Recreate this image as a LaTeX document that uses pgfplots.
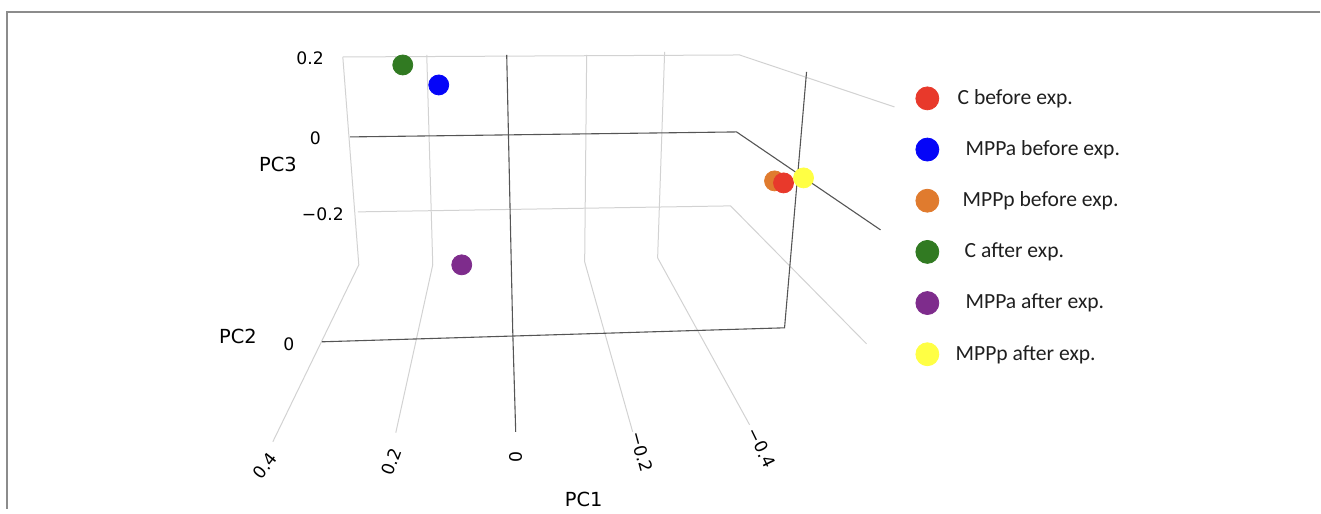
\documentclass[border=0pt]{standalone}
\usepackage{fontspec}
\setmainfont{DejaVu Sans}
\newfontfamily\legfont{Carlito}
\usepackage{pgfplots}
\pgfplotsset{compat=1.18}
\definecolor{cRed}{HTML}{E8392B}
\definecolor{cBlue}{HTML}{0505F8}
\definecolor{cOrange}{HTML}{E07B2E}
\definecolor{cGreen}{HTML}{317A22}
\definecolor{cPurple}{HTML}{7E2C8C}
\definecolor{cYellow}{HTML}{FFFF44}
\definecolor{gridL}{HTML}{D2D2D2}
\definecolor{gridD}{HTML}{555555}
\definecolor{axtext}{HTML}{444444}
\definecolor{frameC}{HTML}{8C8C8C}
\begin{document}
\begin{tikzpicture}
\begin{axis}[
  width=660.5pt, height=254.5pt, scale only axis,
  xmin=0, xmax=1321, ymin=0, ymax=509, y dir=reverse,
  hide axis, clip=false,
  legend cell align=left,
  legend style={at={(0.6934,0.830)}, anchor=north west, draw=none, fill=none,
    font=\legfont\fontsize{10.8pt}{12pt}\selectfont, text=black!88,
    row sep=14.1pt, column sep=8.4pt, inner sep=0pt, nodes={inner sep=0pt}},
  every node/.style={text=axtext, inner sep=0pt},
]
% bounding area
\path (axis cs:0,0) rectangle (axis cs:1321,509);
% legend
\addlegendimage{only marks, mark=*, mark size=5.75pt, color=cRed}
\addlegendentry{\hspace{1pt}C before exp.}
\addlegendimage{only marks, mark=*, mark size=5.75pt, color=cBlue}
\addlegendentry{\hspace{5pt}MPPa before exp.}
\addlegendimage{only marks, mark=*, mark size=5.75pt, color=cOrange}
\addlegendentry{\hspace{3.5pt}MPPp before exp.}
\addlegendimage{only marks, mark=*, mark size=5.75pt, color=cGreen}
\addlegendentry{\hspace{4.5pt}C after exp.}
\addlegendimage{only marks, mark=*, mark size=5.75pt, color=cPurple}
\addlegendentry{\hspace{5pt}MPPa after exp.}
\addlegendimage{only marks, mark=*, mark size=5.75pt, color=cYellow}
\addlegendentry{MPPp after exp.}
% frame
\addplot[frameC, line width=0.75pt, forget plot] coordinates {(1321,12) (7,12) (7,509)};
% light grid lines
\addplot[gridL, line width=0.5pt, forget plot] coordinates {(343,57) (740,55) (895,107)};
\addplot[gridL, line width=0.5pt, forget plot] coordinates {(358,212) (731,206) (867,344)};
\addplot[gridL, line width=0.5pt, forget plot] coordinates {(343,57) (359,265) (273,442)};
\addplot[gridL, line width=0.5pt, forget plot] coordinates {(427,55) (433,265) (396,433)};
\addplot[gridL, line width=0.5pt, forget plot] coordinates {(587,55) (585,262) (633,432)};
\addplot[gridL, line width=0.5pt, forget plot] coordinates {(665,52) (658,258) (750,425)};
% dark zero lines
\addplot[gridD, line width=0.55pt, forget plot] coordinates {(350,137) (737,132) (881,230)};
\addplot[gridD, line width=0.55pt, forget plot] coordinates {(507,55) (513,330) (516,432)};
\addplot[gridD, line width=0.55pt, forget plot] coordinates {(322,342) (785,328) (807,72)};
% data points
\addplot[only marks, mark=*, mark size=5pt, color=cGreen, forget plot] coordinates {(403,65)};
\addplot[only marks, mark=*, mark size=5pt, color=cBlue, forget plot] coordinates {(439,85)};
\addplot[only marks, mark=*, mark size=5pt, color=cPurple, forget plot] coordinates {(462,265)};
\addplot[only marks, mark=*, mark size=5pt, color=cOrange, forget plot] coordinates {(775,181)};
\addplot[only marks, mark=*, mark size=5pt, color=cRed, forget plot] coordinates {(784,183)};
\addplot[only marks, mark=*, mark size=5pt, color=cYellow, forget plot] coordinates {(804,178)};
% axis texts
\node[font=\fontsize{8.6pt}{10pt}\selectfont, anchor=east] at (axis cs:331,58) {0.2};
\node[font=\fontsize{8.6pt}{10pt}\selectfont, anchor=east] at (axis cs:328,138) {0};
\node[font=\fontsize{8.6pt}{10pt}\selectfont, anchor=east] at (axis cs:351,214) {−0.2};
\node[font=\fontsize{9.7pt}{11pt}\selectfont] at (axis cs:278,165) {PC3};
\node[font=\fontsize{9.7pt}{11pt}\selectfont] at (axis cs:238,337) {PC2};
\node[font=\fontsize{8.6pt}{10pt}\selectfont] at (axis cs:289,344) {0};
\node[font=\fontsize{9.7pt}{11pt}\selectfont] at (axis cs:584,500) {PC1};
\node[font=\fontsize{8.6pt}{10pt}\selectfont, rotate=52] at (axis cs:265,466) {0.4};
\node[font=\fontsize{8.6pt}{10pt}\selectfont, rotate=70] at (axis cs:392,462) {0.2};
\node[font=\fontsize{8.6pt}{10pt}\selectfont, rotate=90] at (axis cs:516,457) {0};
\node[font=\fontsize{8.6pt}{10pt}\selectfont, rotate=-75] at (axis cs:642,452) {−0.2};
\node[font=\fontsize{8.6pt}{10pt}\selectfont, rotate=-64] at (axis cs:762,448) {−0.4};
\end{axis}
\end{tikzpicture}
\end{document}
